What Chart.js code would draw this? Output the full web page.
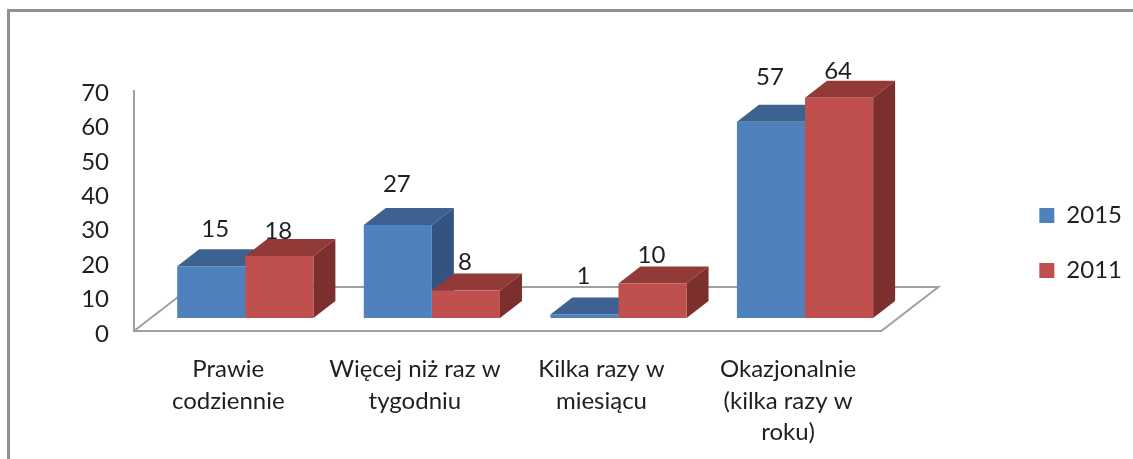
<!DOCTYPE html>
<html>
<head>
<meta charset="utf-8">
<title>Chart</title>
<script src="https://cdn.jsdelivr.net/npm/chart.js@4"></script>
<style>
  html, body { margin: 0; padding: 0; background: #fff; overflow: hidden; }
  #frame { position: absolute; left: 7px; top: 9px; width: 1126px; height: 450px; border-left: 3px solid #8f8f8f; border-top: 3px solid #8f8f8f; }
  canvas { position: absolute; left: 0; top: 0; filter: blur(0.4px); }
</style>
</head>
<body>
<div id="frame"></div>
<canvas id="chart" width="1133" height="459"></canvas>
<script>
const categories = [
  ["Prawie", "codziennie"],
  ["Więcej niż raz w", "tygodniu"],
  ["Kilka razy w", "miesiącu"],
  ["Okazjonalnie", "(kilka razy w", "roku)"]
];
const values2015 = [15, 27, 1, 57];
const values2011 = [18, 8, 10, 64];

const textColor = "#1f1f1f";
const axisColor = "#a0a0a0";
const fontFamily = "Lato, 'Open Sans', sans-serif";

// colours of the fake 3D faces, one per dataset
const topColors = ["#3d6291", "#913a38"];
const sideColors = ["#335480", "#7b302e"];
const depthX = 22;
const depthY = 17;

// floor and walls, then top/side faces. The fronts are the real bars
const box3d = {
  id: "box3d",
  beforeDatasetsDraw(chart) {
    const ctx = chart.ctx;
    const area = chart.chartArea;
    const left = area.left - 18;
    const right = area.right - 17;
    const top = area.top - 3;
    const bottom = area.bottom - 3;

    ctx.save();
    ctx.strokeStyle = axisColor;
    ctx.lineWidth = 2;
    ctx.beginPath();
    ctx.moveTo(left, top);
    ctx.lineTo(left, bottom);
    ctx.lineTo(right, bottom);
    ctx.lineTo(right + 57, bottom - 44);
    ctx.lineTo(left + 57, bottom - 44);
    ctx.lineTo(left, bottom);
    ctx.stroke();

    chart.data.datasets.forEach((ds, d) => {
      chart.getDatasetMeta(d).data.forEach(bar => {
        const x0 = bar.x - bar.width / 2;
        const x1 = bar.x + bar.width / 2;
        const base = bar.base;
        ctx.fillStyle = topColors[d];
        ctx.beginPath();
        ctx.moveTo(x0, bar.y);
        ctx.lineTo(x0 + depthX, bar.y - depthY);
        ctx.lineTo(x1 + depthX, bar.y - depthY);
        ctx.lineTo(x1, bar.y);
        ctx.closePath();
        ctx.fill();
        ctx.fillStyle = sideColors[d];
        ctx.beginPath();
        ctx.moveTo(x1, bar.y);
        ctx.lineTo(x1 + depthX, bar.y - depthY);
        ctx.lineTo(x1 + depthX, base - depthY);
        ctx.lineTo(x1, base);
        ctx.closePath();
        ctx.fill();
      });
    });
    ctx.restore();
  },
  afterDatasetsDraw(chart) {
    const ctx = chart.ctx;
    // value labels don't sit at a constant height in the original
    const offsets = [[37, 41, 38, 44], [25, 28, 28, 26]];
    ctx.save();
    ctx.font = "24px " + fontFamily;
    ctx.fillStyle = textColor;
    ctx.textAlign = "center";
    ctx.textBaseline = "middle";
    chart.data.datasets.forEach((ds, d) => {
      chart.getDatasetMeta(d).data.forEach((bar, i) => {
        const nudge = d === 0 && i === 0 ? 4 : -1;
        ctx.fillText(ds.data[i], bar.x + nudge, bar.y - offsets[d][i]);
      });
    });
    ctx.restore();
  },
  afterLayout(chart) {
    // legend sits further right and higher than the space it reserves
    chart.legend.left += 110;
    chart.legend.right += 110;
    chart.legend.top -= 33;
    chart.legend.bottom -= 33;
  }
};

new Chart(document.getElementById("chart"), {
  type: "bar",
  data: {
    labels: categories,
    datasets: [
      { label: "2015", data: values2015, backgroundColor: "#4f81bd", yAxisID: "bars", clip: false },
      { label: "2011", data: values2011, backgroundColor: "#c0504d", yAxisID: "bars", clip: false }
    ]
  },
  options: {
    responsive: false,
    animation: false,
    categoryPercentage: 0.73,
    barPercentage: 1,
    layout: { padding: { top: 93, right: 111 } },
    plugins: {
      tooltip: { enabled: false },
      legend: {
        position: "right",
        labels: {
          boxWidth: 15,
          boxHeight: 15,
          padding: 31,
          color: textColor,
          font: { family: fontFamily, size: 24 }
        }
      }
    },
    scales: {
      x: {
        grid: { display: false },
        border: { display: false },
        afterFit(scale) { scale.height = 125; },
        ticks: {
          autoSkip: false,
          maxRotation: 0,
          labelOffset: -17,
          padding: 12,
          color: textColor,
          font: { family: fontFamily, size: 24, lineHeight: 1.31 }
        }
      },
      y: {
        min: 0,
        max: 70,
        grid: { display: false, drawTicks: false },
        border: { display: false },
        afterFit(scale) { scale.width = 152; },
        ticks: {
          stepSize: 10,
          padding: 43,
          color: textColor,
          font: { family: fontFamily, size: 24 }
        }
      },
      // the bars stand a bit inside the floor, so they get their own zero
      bars: {
        display: false,
        min: -4.65,
        max: 65.35
      }
    }
  },
  plugins: [box3d]
});
</script>
</body>
</html>
